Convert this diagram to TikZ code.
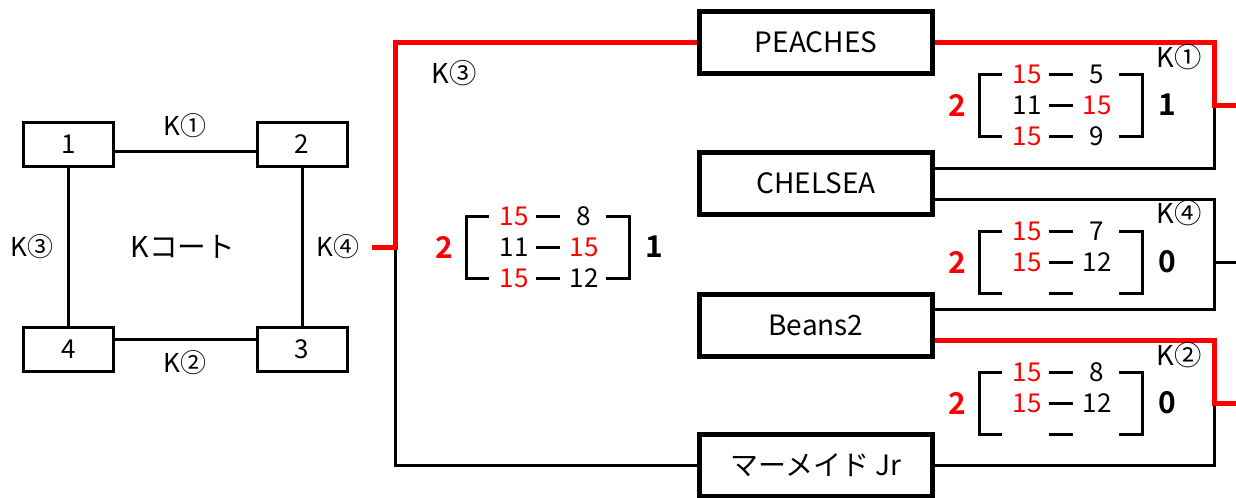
\documentclass[tikz,border=0pt]{standalone}
\usepackage{fontspec}
\setmainfont{Noto Sans CJK JP}[BoldFont={Noto Sans CJK JP Bold}]
\usetikzlibrary{calc}

\tikzset{
	court/.style={draw, line width=2.25pt, minimum width=67.5pt, minimum height=33pt, inner sep=0pt, font=\fontsize{19.5}{20}\selectfont},
	team/.style={draw, line width=3.75pt, minimum width=174.75pt, minimum height=46.5pt, inner sep=0pt, font=\fontsize{21}{22}\selectfont},
	link/.style={line width=2.25pt},
	win/.style={line width=3.75pt, red},
	score/.style={inner sep=0pt, font=\fontsize{19.5}{20}\selectfont},
	res/.style={inner sep=0pt, font=\fontsize{22.5}{24}\selectfont\bfseries},
	lbl/.style={inner sep=0pt, font=\fontsize{19.5}{20}\selectfont}
}

\begin{document}
\begin{tikzpicture}[x=0.75pt, y=-0.75pt]
	\useasboundingbox ( 0, 0 ) rectangle ( 1236, 497 );

	% корт K
	\node [court] (c1) at (  68.5, 144.5 ) {1};
	\node [court] (c2) at ( 302.0, 144.5 ) {2};
	\node [court] (c4) at (  68.5, 349.0 ) {4};
	\node [court] (c3) at ( 302.0, 349.0 ) {3};
	\draw [link] ($(c1.east)+(0,7)$) -- ($(c2.west)+(0,7)$);
	\draw [link] ($(c4.east)+(0,-10)$) -- ($(c3.west)+(0,-10)$);
	\draw [link] (c1.south) -- (c4.north);
	\draw [link] (c2.south) -- (c3.north);
	\node [lbl] (m1) at ( 185, 126 ) {K①};
	\node [lbl] (m2) at ( 185, 363 ) {K②};
	\node [lbl] (m3) at (  32, 247 ) {K③};
	\node [lbl] (m4) at ( 338, 247 ) {K④};
	\node [lbl, font=\fontsize{21.5}{22}\selectfont] (kc) at ( 183, 247 ) {Kコート};

	% команды
	\node [team] (t1) at ( 816,  42.5 ) {PEACHES};
	\node [team] (t2) at ( 816, 183.5 ) {CHELSEA};
	\node [team] (t3) at ( 816, 325.5 ) {Beans2};
	\node [team] (t4) at ( 816, 465.0 ) {マーメイド Jr};

	% сетка
	\coordinate (k3in) at ( 372, 247 );
	\coordinate (k3) at ( 395, 247 );
	\coordinate (k1) at ( 1214, 105 );
	\coordinate (k4) at ( 1214, 262 );
	\coordinate (k2) at ( 1214, 403 );
	\coordinate (edge) at ( 1240, 0 );
	\draw [link] (k3) |- (t4.west);
	\draw [link] ($(t2.east)+(0,-15.5)$) -| (k1);
	\draw [link] ($(t2.east)+(0,15.5)$) -| (k4) |- ($(t3.east)+(0,-16.5)$);
	\draw [link] (k4) -- (k4 -| edge);
	\draw [link] (t4.east) -| (k2);
	\draw [win] (k3in) -- (k3) |- (t1.west);
	\draw [win] (t1.east) -| (k1) -- (k1 -| edge);
	\draw [win] ($(t3.east)+(0,14.5)$) -| (k2) -- (k2 -| edge);

	% матч K③
	\begin{scope}[shift={(466,247)}]
		\node [res, red] (a0) at ( -22, 0 ) {2};
		\draw [link] ( 23, -31 ) -- ( 0, -31 ) -- ( 0, 31 ) -- ( 23, 31 );
		\draw [link] ( 140, -31 ) -- ( 163, -31 ) -- ( 163, 31 ) -- ( 140, 31 );
		\node [score, red] (a1) at ( 48, -31 ) {15};  \draw [link] ( 70, -31 ) -- ( 94, -31 );  \node [score] (b1) at ( 118, -31 ) {8};
		\node [score] (a2) at ( 48,   0 ) {11};       \draw [link] ( 70,   0 ) -- ( 94,   0 );  \node [score, red] (b2) at ( 118, 0 ) {15};
		\node [score, red] (a3) at ( 48,  31 ) {15};  \draw [link] ( 70,  31 ) -- ( 94,  31 );  \node [score] (b3) at ( 118, 31 ) {12};
		\node [res] (b0) at ( 188, 0 ) {1};
	\end{scope}
	\node [lbl, font=\fontsize{20.5}{21}\selectfont] (n3) at ( 454, 73 ) {K③};

	% матч K①
	\begin{scope}[shift={(979,105)}]
		\node [res, red] (c0) at ( -22, 0 ) {2};
		\draw [link] ( 23, -31 ) -- ( 0, -31 ) -- ( 0, 31 ) -- ( 23, 31 );
		\draw [link] ( 140, -31 ) -- ( 163, -31 ) -- ( 163, 31 ) -- ( 140, 31 );
		\node [score, red] (cl1) at ( 48, -31 ) {15};  \draw [link] ( 70, -31 ) -- ( 94, -31 );  \node [score] (cr1) at ( 118, -31 ) {5};
		\node [score] (cl2) at ( 48,   0 ) {11};       \draw [link] ( 70,   0 ) -- ( 94,   0 );  \node [score, red] (cr2) at ( 118, 0 ) {15};
		\node [score, red] (cl3) at ( 48,  31 ) {15};  \draw [link] ( 70,  31 ) -- ( 94,  31 );  \node [score] (cr3) at ( 118, 31 ) {9};
		\node [res] (cr0) at ( 188, 0 ) {1};
		\node [lbl, font=\fontsize{20.5}{21}\selectfont] (n1) at ( 200, -48 ) {K①};
	\end{scope}

	% матч K④
	\begin{scope}[shift={(979,262)}]
		\node [res, red] (d0) at ( -22, 0 ) {2};
		\draw [link] ( 23, -31 ) -- ( 0, -31 ) -- ( 0, 31 ) -- ( 23, 31 );
		\draw [link] ( 140, -31 ) -- ( 163, -31 ) -- ( 163, 31 ) -- ( 140, 31 );
		\node [score, red] (dl1) at ( 48, -31 ) {15};  \draw [link] ( 70, -31 ) -- ( 94, -31 );  \node [score] (dr1) at ( 118, -31 ) {7};
		\node [score, red] (dl2) at ( 48,   0 ) {15};  \draw [link] ( 70,   0 ) -- ( 94,   0 );  \node [score] (dr2) at ( 118, 0 ) {12};
		\draw [link] ( 70,  31 ) -- ( 94,  31 );
		\node [res] (dr0) at ( 188, 0 ) {0};
		\node [lbl, font=\fontsize{20.5}{21}\selectfont] (n4) at ( 200, -49 ) {K④};
	\end{scope}

	% матч K②
	\begin{scope}[shift={(979,403)}]
		\node [res, red] (e0) at ( -22, 0 ) {2};
		\draw [link] ( 23, -31 ) -- ( 0, -31 ) -- ( 0, 31 ) -- ( 23, 31 );
		\draw [link] ( 140, -31 ) -- ( 163, -31 ) -- ( 163, 31 ) -- ( 140, 31 );
		\node [score, red] (el1) at ( 48, -31 ) {15};  \draw [link] ( 70, -31 ) -- ( 94, -31 );  \node [score] (er1) at ( 118, -31 ) {8};
		\node [score, red] (el2) at ( 48,   0 ) {15};  \draw [link] ( 70,   0 ) -- ( 94,   0 );  \node [score] (er2) at ( 118, 0 ) {12};
		\draw [link] ( 70,  31 ) -- ( 94,  31 );
		\node [res] (er0) at ( 188, 0 ) {0};
		\node [lbl, font=\fontsize{20.5}{21}\selectfont] (n2) at ( 200, -48 ) {K②};
	\end{scope}
\end{tikzpicture}
\end{document}
